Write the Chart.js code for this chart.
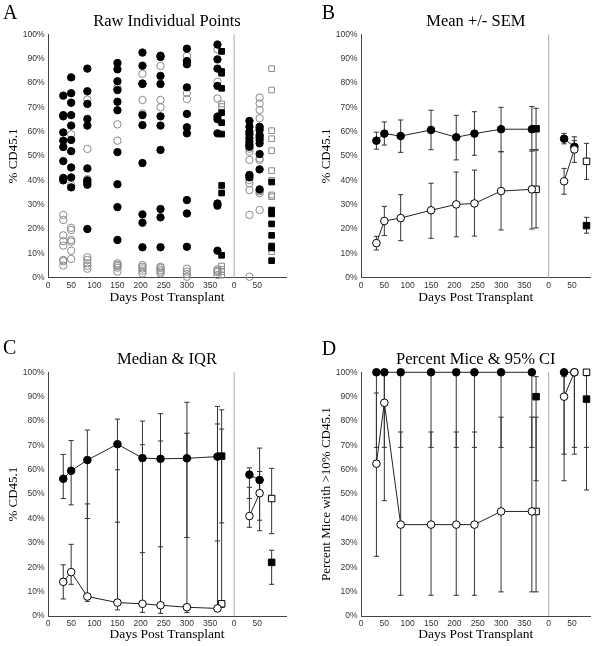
<!DOCTYPE html>
<html>
<head>
<meta charset="utf-8">
<script src="https://cdn.jsdelivr.net/npm/chart.js@4.4.1/dist/chart.umd.min.js"></script>
<style>
    html, body { margin: 0; padding: 0; background: #fff; width: 603px; height: 646px; overflow: hidden; }
    .panel { position: absolute; }
</style>
</head>
<body>
<div class="panel" style="left:0;top:0;width:300px;height:320px"><canvas id="chartA"></canvas></div>
<div class="panel" style="left:313px;top:0;width:290px;height:320px"><canvas id="chartB"></canvas></div>
<div class="panel" style="left:0;top:338px;width:300px;height:308px"><canvas id="chartC"></canvas></div>
<div class="panel" style="left:313px;top:338px;width:290px;height:308px"><canvas id="chartD"></canvas></div>
<script>
// === 時間軸 (日) ===
const BREAK = 402;                 // 2つ目のコホートの 0 日目
const days = [33, 50, 85, 150, 204, 243, 300, 366];
const sqDay = 375;
const postDays = [33, 55];
const postSqDay = 81;
const xTickValues = [0, 50, 100, 150, 200, 250, 300, 350, BREAK, BREAK + 50];

// === A: 個別データ ===
const rawFilled = [
    [74.8, 66.8, 66.3, 59.7, 56.3, 53.7, 47.9, 41, 40],
    [82.3, 75.8, 71.9, 66.8, 62.5, 56.6, 52, 45.3, 41.2, 37.1],
    [85.9, 76.6, 71.4, 65.2, 62.5, 44.9, 40, 39.2, 38.2, 20],
    [88.2, 85.6, 80.7, 77.1, 72.3, 68.8, 51.6, 38.4, 29, 15.5],
    [92.5, 87.1, 79.8, 79.6, 66.8, 62.7, 47.1, 26, 22.6, 12.5],
    [91.2, 90.7, 82.9, 79.6, 66.3, 62.5, 52.5, 28.2, 24.8, 12.5],
    [94.1, 89, 87.7, 78.2, 67.3, 61.8, 59.3, 31.9, 26.4, 12.7],
    [95.8, 89.7, 85.9, 78.8, 66.2, 65.1, 59.3, 30.5, 29.6, 11.1],
];
const rawOpen = [
    [25.8, 23.7, 17.4, 15, 13.2, 7.3, 6.8, 5],
    [58.9, 38, 20.5, 19.6, 15.5, 14.8, 11.1, 7.7],
    [73.2, 52.9, 40.5, 8.4, 7.3, 5.9, 4.9, 3.7],
    [78, 63, 56.3, 5.9, 5.3, 4.8, 4.1, 2.5],
    [83.8, 73, 67.5, 5.2, 4.5, 3.8, 2.9, 1.8],
    [87, 73, 70, 4.5, 4, 3.2, 2.5, 1.8],
    [91.1, 75.8, 73.4, 3.7, 2.5, 1.5, 0.4],
    [93.8, 80.5, 73.6, 3.4, 2.8, 2.3, 1.1],
];
const rawSqFilled = [93, 84.7, 84, 77.8, 67.8, 63.7, 59, 37.9, 34.8, 9.2];
const rawSqOpen = [93, 71.4, 70.3, 4.8, 3.4, 2.5, 1.1];
const rawPostFilled = [
    [64.4, 62, 60, 58.9, 57.3, 55.9, 54.8, 53.8, 42.2, 41.2],
    [62, 60.7, 58.6, 57.7, 56.6, 55.2, 50.8, 44.5, 36.3],
];
const rawPostOpen = [
    [54, 53, 51.8, 48.4, 42, 40.1, 38.8, 36, 25.8, 0.4],
    [74, 71.6, 68.9, 65.5, 61.4, 49, 48.4, 36, 35.5, 34.7, 27.8],
];
const rawPostSqOpen = [85.9, 77.1, 60.4, 57.1, 52.2, 44, 40, 34, 33.3, 10.7];
const rawPostSqFilled = [39.3, 27.8, 27, 26.2, 22.1, 17.4, 13, 12.2, 7];

// === B: 平均 +/- SEM ===
const semFilled   = [56.3, 59.2, 58.2, 60.7, 57.7, 59.2, 61, 61];
const semFilledLo = [52.8, 54.5, 51.5, 52.6, 48.4, 50.3, 51.7, 52];
const semFilledHi = [59.8, 64, 64.8, 68.8, 66.7, 68.2, 70, 70.3];
const semOpen   = [14.2, 23.3, 24.5, 27.7, 30.1, 30.5, 35.6, 36.3];
const semOpenLo = [11.4, 17.3, 15.2, 16.2, 16.8, 17.1, 19.6, 20];
const semOpenHi = [17, 29.3, 34.1, 38.8, 43.4, 44.2, 51.8, 52.6];
const semSq = { filled: [61.2, 52.5, 69.6], open: [36.3, 20.5, 52.5] };
const semPostFilled   = [57.1, 53.8];
const semPostFilledLo = [55, 51.5];
const semPostFilledHi = [59.3, 56.3];
const semPostOpen   = [39.6, 52.7];
const semPostOpenLo = [34.3, 47.4];
const semPostOpenHi = [44.9, 57.9];
const semPostSq = { filled: [21.4, 18.3, 24.8], open: [47.8, 40.4, 55.2] };

// === C: 中央値 & IQR ===
const medFilled   = [56.3, 59.6, 64, 70.5, 64.8, 64.5, 64.7, 65.4];
const medFilledLo = [48.2, 45.6, 40, 38.5, 26, 28.4, 32.2, 30.8];
const medFilledHi = [66.3, 72, 76.3, 80.8, 80, 83, 87.7, 86];
const medOpen   = [14, 18, 8, 5.5, 5, 4.4, 3.6, 3.1];
const medOpenLo = [7, 13, 6, 2.5, 1.5, 1.1, 1.4, 2.7];
const medOpenHi = [21, 29.4, 46, 60, 70.3, 71.8, 75, 78.8];
const medSq = { filled: [65.6, 38.2, 84.6], open: [5, 3.5, 76.7] };
const medPostFilled   = [58, 55.8];
const medPostFilledLo = [48.2, 39.3];
const medPostFilledHi = [60.8, 68.9];
const medPostOpen   = [41, 50.4];
const medPostOpenLo = [36.4, 35];
const medPostOpenHi = [52.8, 59.3];
const medPostSq = { filled: [22, 13, 27], open: [48.2, 33.8, 60.6] };

// === D: >10% のマウス割合 & 95% CI ===
const pctFilled   = [100, 100, 100, 100, 100, 100, 100, 100];
const pctFilledLo = [69.2, 69.2, 69.2, 69.2, 69.2, 69.2, 69.2, 69.2];
const pctFilledHi = [100, 100, 100, 100, 100, 100, 100, 100];
const pctOpen   = [62.5, 87.5, 37.5, 37.5, 37.5, 37.5, 42.9, 42.9];
const pctOpenLo = [24.5, 47.3, 8.5, 8.5, 8.5, 8.5, 9.9, 9.9];
const pctOpenHi = [91.5, 99.7, 75.5, 75.5, 75.5, 75.5, 81.6, 81.6];
const pctSq = { filled: [90, 55.5, 98.2], open: [42.9, 9.9, 81.6] };
const pctPostFilled   = [100, 100];
const pctPostFilledLo = [66.4, 69.2];
const pctPostFilledHi = [100, 100];
const pctPostOpen   = [90, 100];
const pctPostOpenLo = [55.5, 66.4];
const pctPostOpenHi = [98.2, 100];
const pctPostSq = { filled: [89, 51.7, 98.6], open: [100, 69.2, 100] };

// === 共通設定 ===
const SERIF = "'Liberation Serif', 'DejaVu Serif', serif";
const SANS = "'Liberation Sans', Arial, sans-serif";
const INK = '#222';
const BAR = '#333';

const shift = xs => xs.map(d => d + BREAK);
const pts = (xs, ys) => xs.map((x, i) => ({ x, y: ys[i] }));
const columns = (xs, groups) => groups.flatMap((vals, i) => vals.map(v => ({ x: xs[i], y: v })));

function bars(xs, lo, hi) {
    const out = [];
    xs.forEach((x, i) => out.push({ x, y: lo[i] }, { x, y: hi[i] }, { x, y: null }));
    return out;
}

function barSet(data) {
    return {
        data, showLine: true, spanGaps: false, clip: false,
        borderColor: BAR, borderWidth: 1,
        pointStyle: 'line', pointRadius: 2.6, pointBorderColor: BAR, pointBorderWidth: 1,
    };
}

function markerSet(data, shape, filled, line) {
    return {
        data, showLine: !!line, clip: false,
        borderColor: INK, borderWidth: 1,
        pointStyle: shape,
        pointRadius: shape === 'rect' ? 4.6 : 3.8,
        pointBackgroundColor: filled ? '#000' : '#fff',
        pointBorderColor: '#000', pointBorderWidth: 1,
    };
}

function rawSet(data, shape, filled) {
    return {
        data, showLine: false, clip: false,
        pointStyle: shape,
        pointRadius: shape === 'rect' ? 4 : 3.7,
        pointBackgroundColor: filled ? '#000' : 'rgba(255,255,255,0)',
        pointBorderColor: filled ? '#000' : '#8a8a8a', pointBorderWidth: 1,
    };
}

function dividerSet() {
    return {
        data: [{ x: BREAK, y: 0 }, { x: BREAK, y: 100 }],
        showLine: true, borderColor: '#a8a8a8', borderWidth: 1, pointRadius: 0, clip: false,
    };
}

// 要約パネル (B, C, D) のデータセット
function summarySets(m, mLo, mHi, o, oLo, oHi, sq, pm, pmLo, pmHi, po, poLo, poHi, psq) {
    const px = shift(postDays);
    const psx = postSqDay + BREAK;
    return [
        markerSet(pts(days, o), 'circle', false, true),
        markerSet(pts(px, po), 'circle', false, true),
        markerSet([{ x: sqDay, y: sq.open[0] }], 'rect', false),
        markerSet([{ x: psx, y: psq.open[0] }], 'rect', false),
        markerSet(pts(days, m), 'circle', true, true),
        markerSet(pts(px, pm), 'circle', true, true),
        markerSet([{ x: sqDay, y: sq.filled[0] }], 'rect', true),
        markerSet([{ x: psx, y: psq.filled[0] }], 'rect', true),
        barSet(bars(days, oLo, oHi)),
        barSet(bars(px, poLo, poHi)),
        barSet(bars([sqDay, psx], [sq.open[1], psq.open[1]], [sq.open[2], psq.open[2]])),
        barSet(bars(days, mLo, mHi)),
        barSet(bars(px, pmLo, pmHi)),
        barSet(bars([sqDay, psx], [sq.filled[1], psq.filled[1]], [sq.filled[2], psq.filled[2]])),
        dividerSet(),
    ];
}

// パネル文字 (A〜D)
const letterPlugin = {
    id: 'letter',
    afterDraw(chart, args, opts) {
        const ctx = chart.ctx;
        ctx.save();
        ctx.font = `20px ${SERIF}`;
        ctx.fillStyle = '#000';
        ctx.textBaseline = 'alphabetic';
        ctx.fillText(opts.text, opts.x, opts.y);
        ctx.restore();
    },
};

function makePanel(canvasId, p) {
    new Chart(document.getElementById(canvasId), {
        type: 'scatter',
        data: { datasets: p.datasets },
        plugins: [letterPlugin],
        options: {
            responsive: true,
            maintainAspectRatio: false,
            animation: false,
            events: [],
            layout: { padding: { left: 0, right: p.padRight, top: 0, bottom: 0 } },
            plugins: {
                legend: { display: false },
                tooltip: { enabled: false },
                title: {
                    display: true, text: p.title, fullSize: false, color: '#000',
                    font: { family: SERIF, size: 16.5, weight: 'normal' },
                    padding: { top: 11.6, bottom: 2.9 },
                },
                letter: { text: p.letter, x: p.letterX, y: p.letterY },
            },
            scales: {
                x: {
                    type: 'linear', min: 0, max: p.xMax,
                    afterBuildTicks: s => { s.ticks = xTickValues.map(v => ({ value: v })); },
                    afterFit: s => { s.height = p.xAxisH; },
                    ticks: {
                        autoSkip: false, maxRotation: 0, padding: 2.5, color: '#333',
                        font: { family: SANS, size: 8.5 },
                        callback: v => (v >= BREAK ? v - BREAK : v),
                    },
                    grid: { display: false, drawTicks: false },
                    border: { display: true, color: '#444', width: 1 },
                    title: {
                        display: true, text: 'Days Post Transplant', color: '#000',
                        font: { family: SERIF, size: 13.5 },
                        padding: { top: 0, bottom: p.xTitlePad },
                    },
                },
                y: {
                    min: 0, max: 100,
                    afterFit: s => { s.width = 48; },
                    ticks: {
                        stepSize: 10, padding: 3.5, color: '#333',
                        font: { family: SANS, size: 8.5 },
                        callback: v => v + '%',
                    },
                    grid: { display: false, drawTicks: false },
                    border: { display: true, color: '#444', width: 1 },
                    title: {
                        display: true, text: p.yTitle, color: '#000',
                        font: { family: SERIF, size: 13 },
                        padding: { top: 5.5, bottom: 0 },
                    },
                },
            },
        },
    });
}

// === A ===
const postX = shift(postDays);
makePanel('chartA', {
    title: 'Raw Individual Points', yTitle: '% CD45.1', letter: 'A', letterX: 3, letterY: 18.5,
    xMax: 514, padRight: 14, xAxisH: 42.3, xTitlePad: 14.2,
    datasets: [
        rawSet(columns(days, rawFilled), 'circle', true),
        rawSet(columns(postX, rawPostFilled), 'circle', true),
        rawSet(rawSqFilled.map(v => ({ x: sqDay, y: v })), 'rect', true),
        rawSet(rawPostSqFilled.map(v => ({ x: postSqDay + BREAK, y: v })), 'rect', true),
        rawSet(columns(days, rawOpen), 'circle', false),
        rawSet(columns(postX, rawPostOpen), 'circle', false),
        rawSet(rawSqOpen.map(v => ({ x: sqDay, y: v })), 'rect', false),
        rawSet(rawPostSqOpen.map(v => ({ x: postSqDay + BREAK, y: v })), 'rect', false),
        dividerSet(),
    ],
});

// === B ===
makePanel('chartB', {
    title: 'Mean +/- SEM', yTitle: '% CD45.1', letter: 'B', letterX: 8.7, letterY: 18.5,
    xMax: 492, padRight: 12.3, xAxisH: 42.3, xTitlePad: 14.2,
    datasets: summarySets(semFilled, semFilledLo, semFilledHi, semOpen, semOpenLo, semOpenHi, semSq,
        semPostFilled, semPostFilledLo, semPostFilledHi, semPostOpen, semPostOpenLo, semPostOpenHi, semPostSq),
});

// === C ===
makePanel('chartC', {
    title: 'Median & IQR', yTitle: '% CD45.1', letter: 'C', letterX: 3, letterY: 15.5,
    xMax: 514, padRight: 14, xAxisH: 30, xTitlePad: 3.2,
    datasets: summarySets(medFilled, medFilledLo, medFilledHi, medOpen, medOpenLo, medOpenHi, medSq,
        medPostFilled, medPostFilledLo, medPostFilledHi, medPostOpen, medPostOpenLo, medPostOpenHi, medPostSq),
});

// === D ===
makePanel('chartD', {
    title: 'Percent Mice & 95% CI', yTitle: 'Percent Mice with >10% CD45.1', letter: 'D', letterX: 8.7, letterY: 17,
    xMax: 492, padRight: 12.3, xAxisH: 30, xTitlePad: 3.2,
    datasets: summarySets(pctFilled, pctFilledLo, pctFilledHi, pctOpen, pctOpenLo, pctOpenHi, pctSq,
        pctPostFilled, pctPostFilledLo, pctPostFilledHi, pctPostOpen, pctPostOpenLo, pctPostOpenHi, pctPostSq),
});
</script>
</body>
</html>
